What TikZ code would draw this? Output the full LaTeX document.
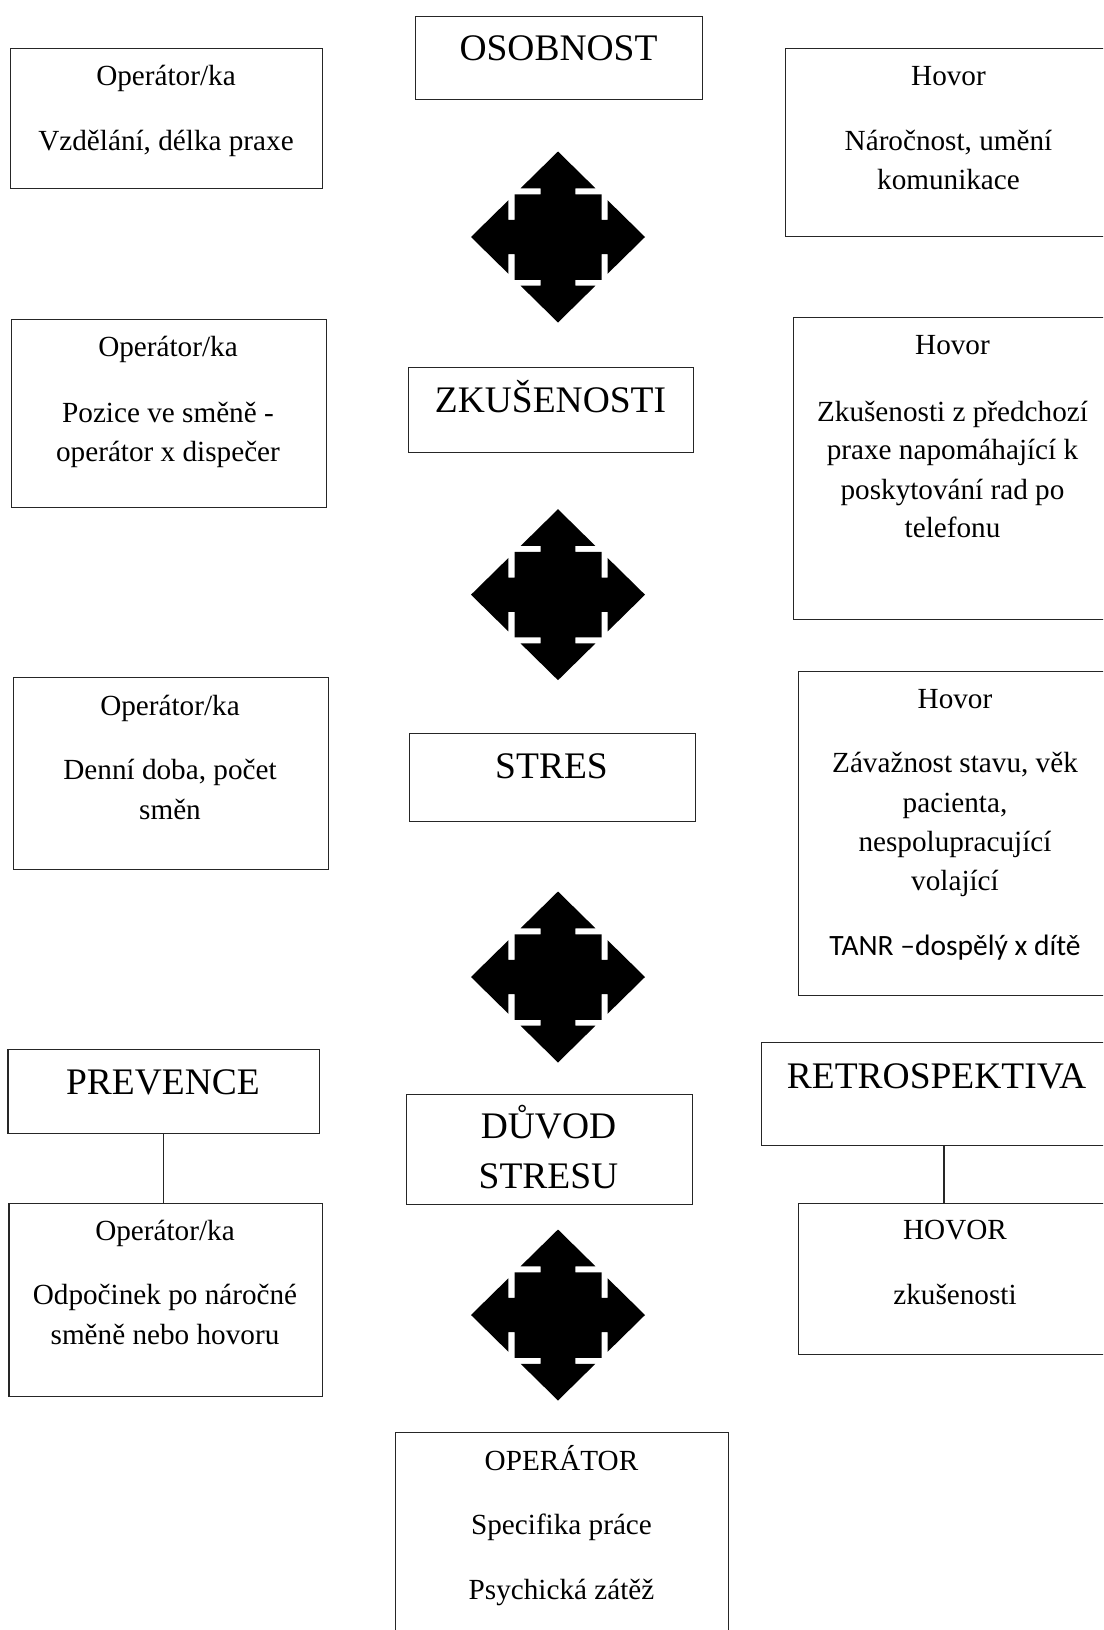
\documentclass[tikz,border=0pt]{standalone}
\usepackage{fontspec}
\setmainfont{Liberation Serif}
\newfontfamily\calfont{Carlito}
\begin{document}
\begin{tikzpicture}[x=1pt,y=-1pt,
  box/.style={draw=black!85, line width=1.2pt, rectangle, inner sep=0pt, anchor=north west},
  sm/.style={font=\fontsize{29.2}{39}\selectfont, anchor=base, inner sep=0pt},
  bg/.style={font=\fontsize{37.5}{48}\selectfont, anchor=base, inner sep=0pt},
  cb/.style={font=\calfont\fontsize{29.5}{34}\selectfont, anchor=base, inner sep=0pt},
  link/.style={draw=black!85, line width=1.2pt},
  qarrow/.pic={
    \fill[black] (0,1) -- (0.43,0.57) -- (0.2,0.57) -- (0.2,0.5) -- (0.5,0.5) -- (0.5,0.2) -- (0.57,0.2) -- (0.57,0.43) -- (1,0)
      -- (0.57,-0.43) -- (0.57,-0.2) -- (0.5,-0.2) -- (0.5,-0.5) -- (0.2,-0.5) -- (0.2,-0.57) -- (0.43,-0.57) -- (0,-1)
      -- (-0.43,-0.57) -- (-0.2,-0.57) -- (-0.2,-0.5) -- (-0.5,-0.5) -- (-0.5,-0.2) -- (-0.57,-0.2) -- (-0.57,-0.43) -- (-1,0)
      -- (-0.57,0.43) -- (-0.57,0.2) -- (-0.5,0.2) -- (-0.5,0.5) -- (-0.2,0.5) -- (-0.2,0.57) -- (-0.43,0.57) -- cycle;
  }
]
\useasboundingbox (0,0) rectangle (1103,1630);
\fill[white] (0,0) rectangle (1103,1630);
\clip (0,0) rectangle (1103,1630);

% boxes
\node[box, minimum width=287, minimum height=83] (osob) at (415,16) {};
\node[box, minimum width=312.5, minimum height=140] (l1) at (9.5,48) {};
\node[box, minimum width=327, minimum height=188] (r1) at (785,48) {};
\node[box, minimum width=315, minimum height=188] (l2) at (10.5,319) {};
\node[box, minimum width=285.5, minimum height=85] (zk) at (407.5,367) {};
\node[box, minimum width=319, minimum height=301.5] (r2) at (793,317) {};
\node[box, minimum width=315, minimum height=192] (l3) at (12.5,677) {};
\node[box, minimum width=286, minimum height=88] (st) at (408.5,733) {};
\node[box, minimum width=314, minimum height=324.5] (r3) at (798,670.5) {};
\node[box, minimum width=311.7, minimum height=84] (prev) at (7.3,1049) {};
\node[box, minimum width=313.7, minimum height=193] (l4) at (8.3,1203) {};
\node[box, minimum width=286.5, minimum height=110] (duv) at (405.5,1094) {};
\node[box, minimum width=351, minimum height=102.6] (retro) at (761,1042) {};
\node[box, minimum width=314, minimum height=150.6] (hov) at (798,1203) {};
\node[box, minimum width=333, minimum height=230] (oper) at (395,1431.6) {};

% connectors
\coordinate (rl) at (944,0);
\path[link] (prev.south) -- (prev.south |- l4.north);
\path[link] (retro.south -| rl) -- (hov.north -| rl);

% four-way arrows
\pic[xscale=87, yscale=85.5] at (558,237) {qarrow};
\pic[xscale=87, yscale=85.5] at (558,594.7) {qarrow};
\pic[xscale=87, yscale=85.5] at (558,977) {qarrow};
\pic[xscale=87, yscale=85.5] at (558,1315) {qarrow};

% texts
\node[bg] (tosob) at (558.5,60) {OSOBNOST};
\node[sm] (tl1a) at (166,85) {Operátor/ka};
\node[sm] (tl1b) at (166,150) {Vzdělání, délka praxe};
\node[sm] (tr1a) at (948.5,85) {Hovor};
\node[sm] (tr1b) at (948.5,150) {Náročnost, umění};
\node[sm] (tr1c) at (948.5,189) {komunikace};

\node[sm] (tl2a) at (168,356) {Operátor/ka};
\node[sm] (tl2b) at (168,422) {Pozice ve směně -};
\node[sm] (tl2c) at (168,461) {operátor x dispečer};
\node[bg] (tzk) at (550.5,412) {ZKUŠENOSTI};
\node[sm] (tr2a) at (952.5,354) {Hovor};
\node[sm] (tr2b) at (952.5,421) {Zkušenosti z předchozí};
\node[sm] (tr2c) at (952.5,459) {praxe napomáhající k};
\node[sm] (tr2d) at (952.5,499) {poskytování rad po};
\node[sm] (tr2e) at (952.5,537) {telefonu};

\node[sm] (tl3a) at (170,715) {Operátor/ka};
\node[sm] (tl3b) at (170,779) {Denní doba, počet};
\node[sm] (tl3c) at (170,819) {směn};
\node[bg] (tst) at (551.5,778) {STRES};
\node[sm] (tr3a) at (955,708) {Hovor};
\node[sm] (tr3b) at (955,772) {Závažnost stavu, věk};
\node[sm] (tr3c) at (955,812) {pacienta,};
\node[sm] (tr3d) at (955,851) {nespolupracující};
\node[sm] (tr3e) at (955,890) {volající};
\node[cb] (tr3f) at (955,955) {TANR –dospělý x dítě};

\node[bg] (tprev) at (163,1094) {PREVENCE};
\node[sm] (tl4a) at (165,1240) {Operátor/ka};
\node[sm] (tl4b) at (165,1304) {Odpočinek po náročné};
\node[sm] (tl4c) at (165,1344) {směně nebo hovoru};
\node[bg] (tduv1) at (548.5,1138) {DŮVOD};
\node[bg] (tduv2) at (548.5,1188) {STRESU};
\node[bg] (tretro) at (936.5,1088) {RETROSPEKTIVA};
\node[sm] (thov1) at (955,1239) {HOVOR};
\node[sm] (thov2) at (955,1304) {zkušenosti};

\node[sm] (top1) at (561.5,1470) {OPERÁTOR};
\node[sm] (top2) at (561.5,1534) {Specifika práce};
\node[sm] (top3) at (561.5,1599) {Psychická zátěž};
\end{tikzpicture}
\end{document}
